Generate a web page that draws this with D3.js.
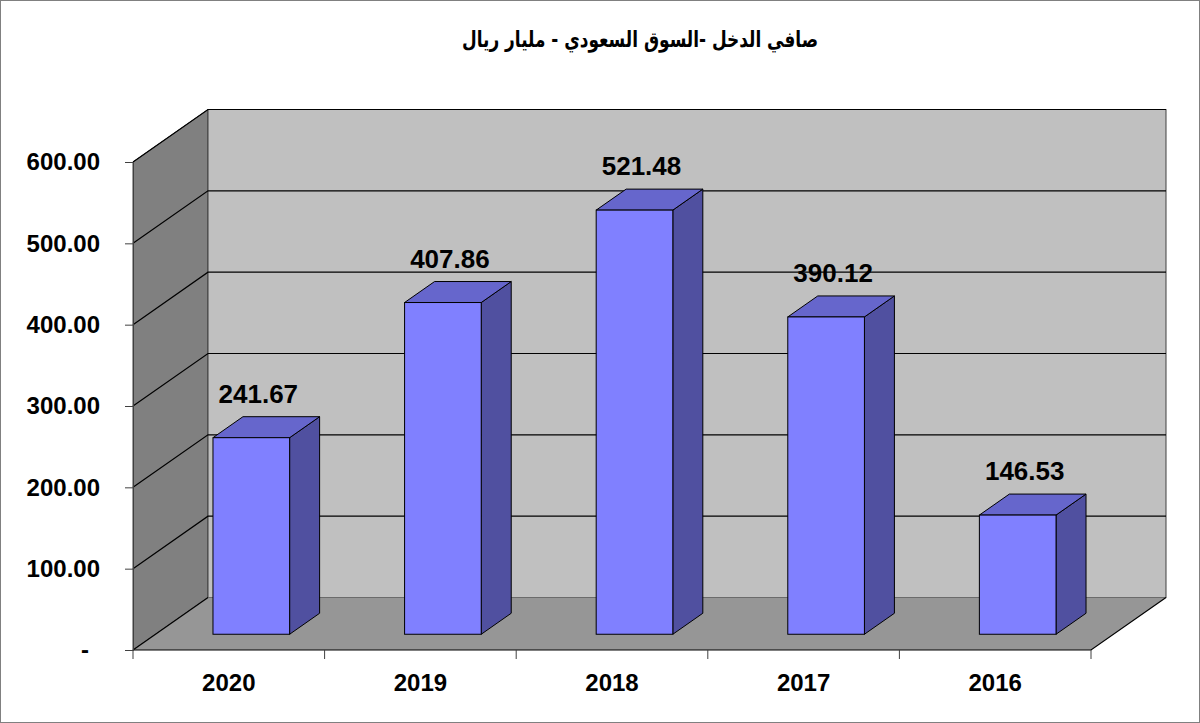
<!DOCTYPE html>
<html>
<head>
<meta charset="utf-8">
<script src="https://cdn.jsdelivr.net/npm/d3@7"></script>
<style>
  body { margin: 0; background: #fff; }
  text { font-family: Arial, "Liberation Sans", "DejaVu Sans", sans-serif; font-weight: bold; }
</style>
</head>
<body>
<div id="chart-area"></div>
<script>

var width = 1200,
    height = 723;

// data
var years = ["2020", "2019", "2018", "2017", "2016"];
var values = [241.67, 407.86, 521.48, 390.12, 146.53];
var yTicks = [0, 100, 200, 300, 400, 500, 600];
var title = "صافي الدخل -السوق السعودي - مليار ريال";

var svg = d3.select("#chart-area").append("svg")
    .attr("width", width)
    .attr("height", height);

// chart area border
svg.append("rect")
    .attr("x", 0.5).attr("y", 0.5)
    .attr("width", width - 1).attr("height", height - 1)
    .style("fill", "white")
    .style("stroke", "#808080");

// depth of the 3d box
var dx = 75, dy = -52.5;

var x = d3.scaleBand()
    .domain(years)
    .range([133, 1091])
    .paddingInner(0)
    .paddingOuter(0);

var y = d3.scaleLinear()
    .domain([0, 600])
    .range([650, 162]);

var x0 = x.range()[0], x1 = x.range()[1];
var yTop = y(600), yBot = y(0);

function pts(a) { return a.map(p => p.join(",")).join(" "); }

// left wall
svg.append("polygon")
    .attr("points", pts([[x0, yBot], [x0, yTop], [x0 + dx, yTop + dy], [x0 + dx, yBot + dy]]))
    .style("fill", "#808080")
    .style("stroke", "#404040")
    .style("stroke-width", 1);

// back wall
svg.append("rect")
    .attr("x", x0 + dx)
    .attr("y", yTop + dy)
    .attr("width", x1 - x0)
    .attr("height", yBot - yTop)
    .style("fill", "#c0c0c0")
    .style("stroke", "#404040")
    .style("stroke-width", 1);

// floor
svg.append("polygon")
    .attr("points", pts([[x0, yBot], [x1, yBot], [x1 + dx, yBot + dy], [x0 + dx, yBot + dy]]))
    .style("fill", "#969696");

// gridlines over left and back wall
svg.selectAll(".grid")
    .data(yTicks)
    .enter()
    .append("polyline")
    .attr("class", "grid")
    .attr("points", function(t) {
      if (t == 0) return pts([[x0, y(t)], [x0 + dx, y(t) + dy]]);
      return pts([[x0, y(t)], [x0 + dx, y(t) + dy], [x1 + dx, y(t) + dy]]);
    })
    .style("fill", "none")
    .style("stroke", "black")
    .style("stroke-width", 1.2);

// floor front and right edges
svg.append("polyline")
    .attr("points", pts([[x0, yBot], [x1, yBot], [x1 + dx, yBot + dy]]))
    .style("fill", "none")
    .style("stroke", "black")
    .style("stroke-width", 1.2);

// bars: front face sits at 30% of the depth, back at 70%
var bw = x.bandwidth() * 0.4;
var f0 = 0.3, f1 = 0.7;
var ddx = (f1 - f0) * dx, ddy = (f1 - f0) * dy;

var bars = svg.selectAll(".bar")
    .data(years.map((c, i) => ({ year: c, value: values[i] })))
    .enter()
    .append("g")
    .attr("class", "bar");

function frontX(d) { return x(d.year) + x.bandwidth() * 0.3 + f0 * dx; }
function frontTop(d) { return y(d.value) + f0 * dy; }
function frontBot() { return y(0) + f0 * dy; }

// side face
bars.append("polygon")
    .attr("points", d => {
      var xr = frontX(d) + bw;
      return pts([[xr, frontTop(d)], [xr + ddx, frontTop(d) + ddy], [xr + ddx, frontBot() + ddy], [xr, frontBot()]]);
    })
    .style("fill", "#5050a0")
    .style("stroke", "black")
    .style("stroke-width", 1)
    .style("stroke-linejoin", "round");

// top face
bars.append("polygon")
    .attr("points", d => {
      var xl = frontX(d), t = frontTop(d);
      return pts([[xl, t], [xl + ddx, t + ddy], [xl + bw + ddx, t + ddy], [xl + bw, t]]);
    })
    .style("fill", "#6666cc")
    .style("stroke", "black")
    .style("stroke-width", 1)
    .style("stroke-linejoin", "round");

// front face
bars.append("rect")
    .attr("x", d => frontX(d))
    .attr("y", d => frontTop(d))
    .attr("width", bw)
    .attr("height", d => frontBot() - frontTop(d))
    .style("fill", "#8080ff")
    .style("stroke", "black")
    .style("stroke-width", 1);

// value labels
bars.append("text")
    .attr("x", d => frontX(d) + bw / 2 + 7)
    .attr("y", d => frontTop(d) - 35)
    .attr("text-anchor", "middle")
    .style("font-size", "26px")
    .text(d => d3.format(".2f")(d.value));

// y axis
var yAxis = d3.axisLeft(y)
    .tickValues(yTicks)
    .tickSize(8)
    .tickPadding(25)
    .tickFormat(v => v == 0 ? "-" : d3.format(".2f")(v));

var gy = svg.append("g")
    .attr("transform", "translate(" + x0 + ",0)")
    .call(yAxis);

gy.select(".domain").style("stroke", "#404040");
gy.selectAll(".tick line").style("stroke", "#404040");
gy.selectAll(".tick text")
    .style("font-size", "24px")
    .style("font-family", "Arial, 'Liberation Sans', sans-serif")
    .style("font-weight", "bold")
    .style("fill", "black")
    .attr("dx", v => v == 0 ? -11 : 0);

// x axis
var xAxis = d3.axisBottom(x)
    .tickSize(0)
    .tickPadding(24);

var gx = svg.append("g")
    .attr("transform", "translate(0," + yBot + ")")
    .call(xAxis);

gx.select(".domain").remove();
gx.selectAll(".tick text")
    .style("font-size", "24px")
    .style("font-family", "Arial, 'Liberation Sans', sans-serif")
    .style("font-weight", "bold")
    .style("fill", "black");

// category separators on the x axis
svg.selectAll(".xsep")
    .data(years.concat(["end"]))
    .enter()
    .append("line")
    .attr("class", "xsep")
    .attr("x1", (d, i) => x0 + i * x.bandwidth())
    .attr("x2", (d, i) => x0 + i * x.bandwidth())
    .attr("y1", yBot)
    .attr("y2", yBot + 9)
    .style("stroke", "#404040");

// title (DejaVu arabic runs wide, so squeeze it to the original width)
svg.append("text")
    .attr("x", 640)
    .attr("y", 47)
    .attr("text-anchor", "middle")
    .attr("direction", "rtl")
    .attr("textLength", 356)
    .attr("lengthAdjust", "spacingAndGlyphs")
    .style("font-size", "22px")
    .style("font-family", "'DejaVu Sans', Arial, sans-serif")
    .text(title);

</script>
</body>
</html>
